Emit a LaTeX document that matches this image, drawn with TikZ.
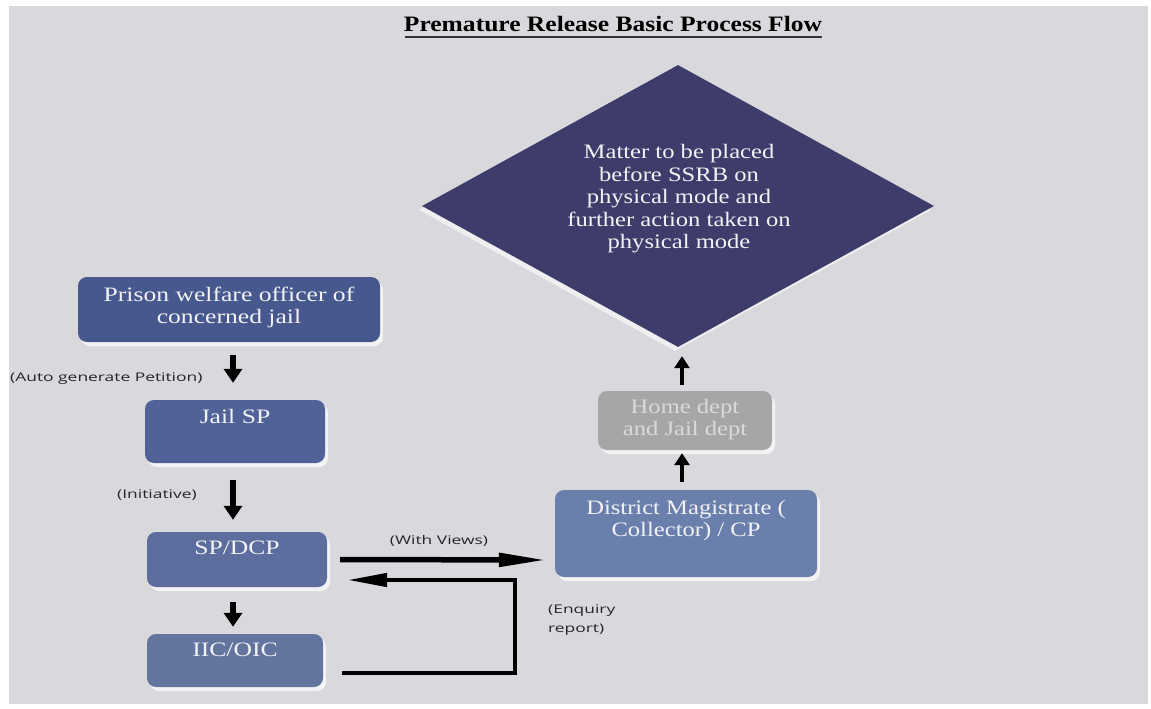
\documentclass[tikz,border=0pt]{standalone}
\usepackage{fontspec}
\setmainfont{Liberation Serif}
\newfontfamily\lblfont{Open Sans}
\usetikzlibrary{arrows.meta,shapes.geometric,shadows}
\definecolor{bg}{HTML}{D9D8DC}
\definecolor{c1}{HTML}{47588F}
\definecolor{c2}{HTML}{506297}
\definecolor{c3}{HTML}{5C6D9E}
\definecolor{c4}{HTML}{63749F}
\definecolor{c5}{HTML}{6B7FAD}
\definecolor{c6}{HTML}{A6A6A8}
\definecolor{cd}{HTML}{3D3C6A}
\definecolor{tw}{HTML}{F2F2F4}
\definecolor{tg}{HTML}{DADADA}
\newcommand\wtxt[2]{\scalebox{#1}[1]{\begin{tabular}{@{}c@{}}#2\end{tabular}}}
\newcommand\ltxt[1]{\scalebox{1.45}[1]{\begin{tabular}{@{}l@{}}#1\end{tabular}}}
\tikzset{
  box/.style={rectangle, rounded corners=9pt, inner sep=0pt, draw=none,
    drop shadow={shadow xshift=3pt, shadow yshift=-4pt, fill=white, opacity=.7}},
  btext/.style={inner sep=0pt, text=tw, font=\fontsize{20.5}{22}\selectfont},
  lbl/.style={inner sep=0pt, text=black!85, font=\lblfont\fontsize{12}{19}\selectfont},
  varrow/.style={line width=5.5pt, -{Triangle[length=14pt,width=18pt]}},
  uarrow/.style={line width=4.5pt, -{Triangle[length=12pt,width=15pt]}},
  harrow/.style={line width=5.5pt, -{Triangle[length=48pt,width=13pt]}},
  rarrow/.style={line width=4.5pt, line join=miter, -{Triangle[length=40pt,width=13pt]}}
}
\begin{document}
\begin{tikzpicture}[x=1pt,y=-1pt]
\useasboundingbox (0,0) rectangle (1151,709);
\fill[white] (0,0) rectangle (1151,709);
\fill[bg] (9,6) rectangle (1148,704);

% title
\node[inner sep=0pt, font=\fontsize{22}{24}\selectfont\bfseries] (title) at (613,24) {\scalebox{1.16}[1]{Premature Release Basic Process Flow}};
\draw[line width=1.6pt, black!80] (405,37) -- (822,37);

% diamond
\node[diamond, draw=none, fill=cd, minimum width=512pt, minimum height=282pt, inner sep=0pt,
  drop shadow={shadow xshift=-3pt, shadow yshift=-4pt, fill=white, opacity=.6}] (dia) at (678,206) {};
\node[btext, font=\fontsize{20.5}{22.5}\selectfont] (diat) at (679,199) {\wtxt{1.2}{Matter to be placed\\before SSRB on\\physical mode and\\further action taken on\\physical mode}};

% left column boxes
\node[box, fill=c1, minimum width=302pt, minimum height=65pt] (pwo) at (229,309.5) {};
\node[btext] (pwot) at (229,308) {\wtxt{1.25}{Prison welfare officer of\\concerned jail}};

\node[box, fill=c2, minimum width=180pt, minimum height=63pt] (jsp) at (235,431.5) {};
\node[btext] (jspt) at (235,419) {\wtxt{1.25}{Jail SP}};

\node[box, fill=c3, minimum width=180pt, minimum height=55pt] (spdcp) at (237,559.5) {};
\node[btext] (spdcpt) at (237,550) {\wtxt{1.25}{SP/DCP}};

\node[box, fill=c4, minimum width=176pt, minimum height=53pt] (iic) at (235,660.5) {};
\node[btext] (iict) at (235,652) {\wtxt{1.25}{IIC/OIC}};

% right column boxes
\node[box, fill=c5, minimum width=262pt, minimum height=87pt] (dm) at (686,533.5) {};
\node[btext] (dmt) at (686,521) {\wtxt{1.2}{District Magistrate (\\Collector) / CP}};

\node[box, fill=c6, minimum width=174pt, minimum height=59pt] (home) at (685,420.5) {};
\node[btext, text=tg] (homet) at (685,420) {\wtxt{1.2}{Home dept\\and Jail dept}};

% labels
\node[lbl, anchor=west] (l1) at (10,378) {\ltxt{(Auto generate Petition)}};
\node[lbl, anchor=west] (l2) at (117,495) {\ltxt{(Initiative)}};
\node[lbl] (l3) at (439,541) {\ltxt{(With Views)}};
\node[lbl, anchor=north west] (l4) at (548,600) {\ltxt{(Enquiry\\report)}};

% vertical arrows
\draw[varrow] ([xshift=4pt,yshift=-13pt]pwo.south) -- ([xshift=-2pt,yshift=17pt]jsp.north);
\draw[varrow] ([xshift=-2pt,yshift=-17pt]jsp.south) -- ([xshift=-4pt,yshift=12pt]spdcp.north);
\draw[varrow] ([xshift=-4pt,yshift=-15pt]spdcp.south) -- ([xshift=-2pt,yshift=7pt]iic.north);

% right flow
\draw[harrow] ([xshift=13pt]spdcp.east) -- ([xshift=-8pt,yshift=-26.5pt]dm.west);
\coordinate (rb) at (515,673);
\coordinate (rt) at (515,580);
\draw[rarrow] ([xshift=19pt,yshift=-12.5pt]iic.east) -- (rb) -- (rt) -- ([xshift=20pt,yshift=-20.5pt]spdcp.east);

\draw[uarrow] ([xshift=-4pt,yshift=8pt]dm.north) -- ([xshift=-3pt,yshift=-3pt]home.south);
\draw[uarrow] ([xshift=-3pt,yshift=6pt]home.north) -- ([xshift=4pt,yshift=-9pt]dia.south);
\end{tikzpicture}
\end{document}
